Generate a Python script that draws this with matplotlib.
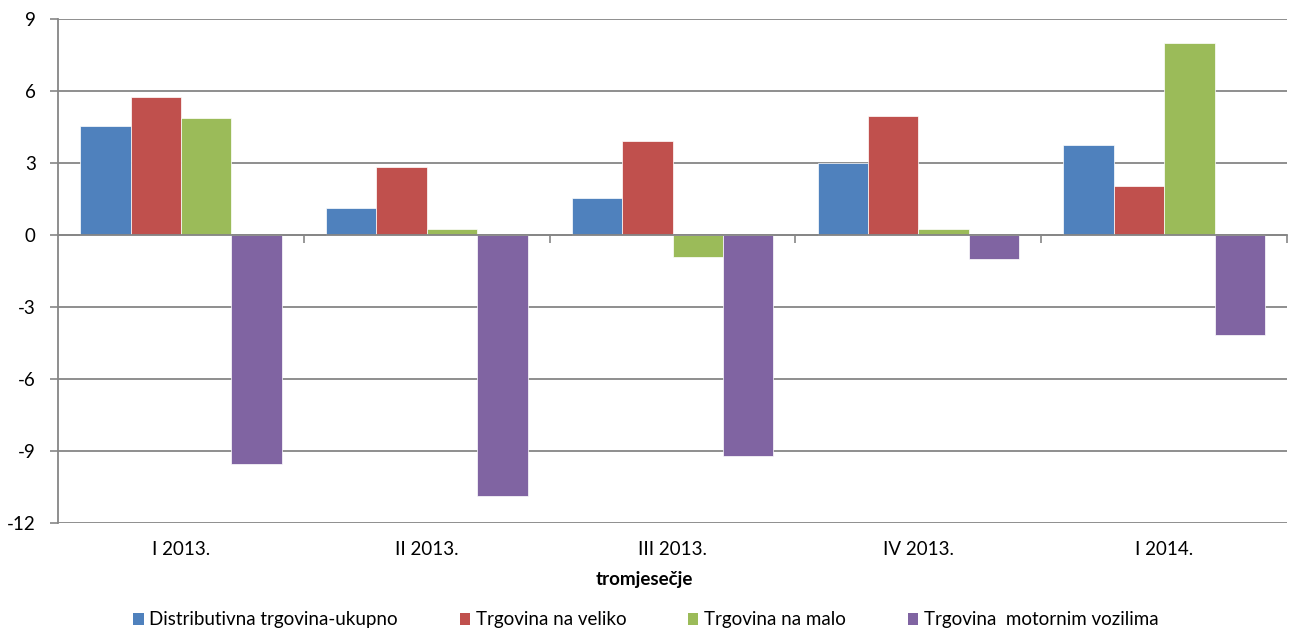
import matplotlib.pyplot as plt
import numpy as np
from matplotlib.patches import Patch

plt.rcParams['font.family'] = ['Lato', 'DejaVu Sans']
plt.rcParams['axes.unicode_minus'] = False

# data
quarters = ['I 2013.', 'II 2013.', 'III 2013.', 'IV 2013.', 'I 2014.']
series_names = ['Distributivna trgovina-ukupno', 'Trgovina na veliko',
                'Trgovina na malo', 'Trgovina  motornim vozilima']
ukupno = [4.54, 1.12, 1.54, 3.0, 3.76]
veliko = [5.75, 2.83, 3.92, 4.96, 2.04]
malo = [4.87, 0.25, -0.92, 0.25, 7.99]
motorna = [-9.54, -10.87, -9.21, -1.01, -4.17]
colors = ['#4F81BD', '#C0504D', '#9BBB59', '#8064A2']

fs = 13.5

fig = plt.figure(figsize=(12.89, 6.33), dpi=100)
ax = fig.add_axes([0.045, 0.1738, 0.9535, 0.796])

x = np.arange(len(quarters))
w = 0.205
for i, vals in enumerate([ukupno, veliko, malo, motorna]):
    ax.bar(x + (i - 1.5) * w, vals, w, color=colors[i],
           edgecolor='white', linewidth=0.5, zorder=3)

ax.set_xlim(-0.5, len(quarters) - 0.5)
ax.set_ylim(-12, 9)
ax.set_yticks(range(-12, 10, 3))
ax.grid(axis='y', color='#868686', linewidth=1.3, zorder=0)
ax.tick_params(axis='y', length=6, width=1.2, color='#868686',
               labelsize=fs, pad=10)

for s in ['top', 'right']:
    ax.spines[s].set_visible(False)
ax.spines['left'].set_color('#868686')
ax.spines['left'].set_linewidth(1.3)
ax.spines['bottom'].set_position(('data', 0))
ax.spines['bottom'].set_color('#868686')
ax.spines['bottom'].set_linewidth(1.3)
ax.spines['bottom'].set_zorder(4)

# category boundary ticks on the zero line
ax.set_xticks(np.arange(0.5, len(quarters), 1.0))
ax.set_xticklabels([])
ax.tick_params(axis='x', length=6, width=1.2, color='#868686', direction='out')

for i, q in enumerate(quarters):
    ax.text(i, -0.052, q, transform=ax.get_xaxis_transform(),
            ha='center', va='center', fontsize=fs)

fig.text(0.5, 1 - 579 / 633, 'tromjesečje', ha='center', va='center',
         fontsize=fs, fontweight='bold')

handles = [Patch(facecolor=c, edgecolor='none') for c in colors]
fig.legend(handles, series_names, loc='center', ncol=4,
           bbox_to_anchor=(0.501, 1 - 620 / 633), frameon=False,
           fontsize=fs, handlelength=0.55, handleheight=0.55,
           handletextpad=0.3, columnspacing=3.3, borderpad=0)

fig.savefig('out.png', dpi=100)
